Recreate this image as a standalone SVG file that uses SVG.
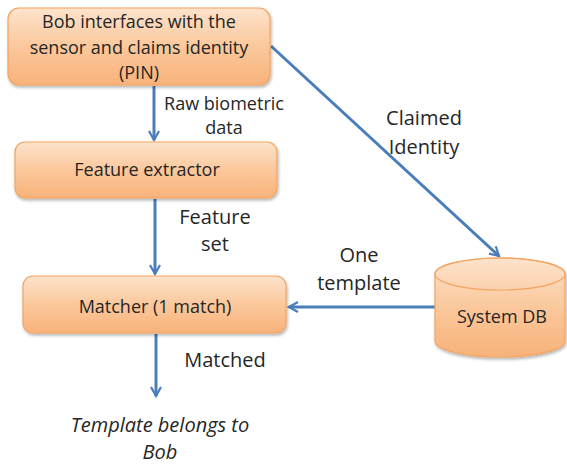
<svg xmlns="http://www.w3.org/2000/svg" width="567" height="466" viewBox="0 0 567 466">
<defs>
<linearGradient id="og" x1="0" y1="0" x2="0" y2="1">
<stop offset="0" stop-color="#fde3cc"/>
<stop offset="0.5" stop-color="#fbc89c"/>
<stop offset="1" stop-color="#f8b27a"/>
</linearGradient>
<filter id="sh" x="-10%" y="-10%" width="130%" height="140%">
<feDropShadow dx="1" dy="2" stdDeviation="1.5" flood-color="#000" flood-opacity="0.3"/>
</filter>
<marker id="ah" viewBox="0 0 12 12" refX="10" refY="6" markerWidth="12" markerHeight="12" markerUnits="userSpaceOnUse" orient="auto">
<path d="M1,1 L10,6 L1,11" fill="none" stroke="#4a7ebb" stroke-width="2.2"/>
</marker>
</defs>
<style>
.box{fill:url(#og);stroke:#f4a460;stroke-width:1.2;filter:url(#sh)}
.t{font-family:"Open Sans","Liberation Sans",sans-serif;font-size:18px;fill:#262626;text-anchor:middle}
.e{font-family:"Open Sans","Liberation Sans",sans-serif;font-size:20px;fill:#262626;text-anchor:middle}
.i{font-family:"Open Sans","Liberation Sans",sans-serif;font-size:20px;font-style:italic;fill:#262626;text-anchor:middle}
.c{stroke:#4a7ebb;stroke-width:3;fill:none;marker-end:url(#ah)}
</style>
<g id="connectors">
<line class="c" x1="154" y1="86" x2="154" y2="140"/>
<line class="c" x1="155" y1="199" x2="155" y2="274"/>
<line class="c" x1="156" y1="334" x2="156" y2="396"/>
<line class="c" x1="271" y1="46" x2="499" y2="256"/>
<line class="c" x1="435" y1="307" x2="289" y2="307"/>
<text class="t" x="224" y="110">Raw biometric</text>
<text class="t" x="224" y="134">data</text>
<text class="e" x="215" y="224">Feature</text>
<text class="e" x="215" y="251">set</text>
<text class="e" x="424" y="125">Claimed</text>
<text class="e" x="424" y="154">Identity</text>
<text class="e" x="359" y="262">One</text>
<text class="e" x="359" y="290">template</text>
<text class="e" x="225" y="367">Matched</text>
</g>
<g id="n1">
<rect class="box" x="8" y="8" width="262" height="77" rx="11"/>
<text class="t" x="139" y="28">Bob interfaces with the</text>
<text class="t" x="139" y="54">sensor and claims identity</text>
<text class="t" x="139" y="79">(PIN)</text>
</g>
<g id="n2">
<rect class="box" x="15" y="142" width="262" height="56" rx="10"/>
<text class="t" x="147" y="176">Feature extractor</text>
</g>
<g id="n3">
<rect class="box" x="23" y="276" width="263" height="57" rx="10"/>
<text class="t" x="155" y="313">Matcher (1 match)</text>
</g>
<g id="n4">
<path class="box" d="M435,274 A65,16 0 0 1 565,274 L565,341 A65,16 0 0 1 435,341 Z"/>
<ellipse cx="500" cy="274" rx="65" ry="16" fill="none" stroke="#f4a460" stroke-width="1.2"/>
<text class="t" x="502" y="323">System DB</text>
</g>
<g id="n5">
<text class="i" x="160" y="432">Template belongs to</text>
<text class="i" x="160" y="459">Bob</text>
</g>
</svg>
